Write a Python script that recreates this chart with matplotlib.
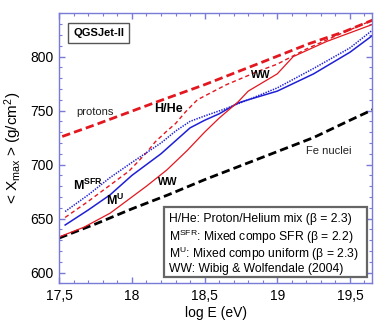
import matplotlib
matplotlib.use("Agg")
import matplotlib.pyplot as plt
from matplotlib.patches import Rectangle
from matplotlib.ticker import MultipleLocator

plt.rcParams['font.family'] = ['Liberation Sans', 'DejaVu Sans']
plt.rcParams['mathtext.fontset'] = 'custom'
plt.rcParams['mathtext.rm'] = 'Liberation Sans'
plt.rcParams['mathtext.it'] = 'Liberation Sans:italic'
plt.rcParams['mathtext.bf'] = 'Liberation Sans:bold'
plt.rcParams['lines.scale_dashes'] = False

# ---- data ----
proton_x = [17.52, 17.75, 18.0, 18.18, 18.5, 18.88, 19.22, 19.46, 19.66]
proton_y = [726, 737, 749.5, 758.5, 774, 794, 812, 823, 834]

fe_x = [17.5, 17.75, 18.0, 18.25, 18.5, 18.75, 19.0, 19.25, 19.5, 19.66]
fe_y = [632, 645, 659, 672, 686, 699, 712, 725, 741, 751]

hhe_x = [17.54, 17.70, 17.84, 17.98, 18.10, 18.16, 18.24, 18.30, 18.37, 18.45,
         18.55, 18.65, 18.88, 19.0, 19.2, 19.4, 19.66]
hhe_y = [651, 666, 680, 694, 711, 721, 731, 738, 749, 760,
         767, 774, 787, 793, 807, 819, 834]

msfr_x = [17.54, 17.7, 17.85, 18.0, 18.1, 18.2, 18.3, 18.4, 18.5, 18.65,
          18.8, 19.0, 19.25, 19.5, 19.66]
msfr_y = [656.5, 672, 688, 702, 711, 720, 731, 740, 745, 752,
          760, 771, 789, 808, 825]

mu_x = [17.54, 17.7, 17.85, 18.0, 18.1, 18.2, 18.3, 18.4, 18.5, 18.6,
        18.73, 18.8, 19.0, 19.25, 19.5, 19.66]
mu_y = [644, 658, 672, 690, 700, 710, 722, 734, 741, 747,
        757, 760, 768, 784, 804, 820]

ww_x = [17.5, 17.67, 17.85, 18.0, 18.1, 18.24, 18.38, 18.5, 18.6, 18.73,
        18.8, 18.9, 19.0, 19.11, 19.34, 19.66]
ww_y = [633, 642, 655, 670, 680, 695, 713, 730, 743, 758,
        768, 776, 784, 800, 814, 830]

xticks = [17.5, 18.0, 18.5, 19.0, 19.5]
xticklabels = ['17,5', '18', '18,5', '19', '19,5']
yticks = [600, 650, 700, 750, 800]

legend_lines = [
    'H/He: Proton/Helium mix (\u03b2 = 2.3)',
    'M$^{\\rm SFR}$: Mixed compo SFR (\u03b2 = 2.2)',
    'M$^{\\rm U}$: Mixed compo uniform (\u03b2 = 2.3)',
    'WW: Wibig & Wolfendale (2004)',
]

RED = '#e3171f'
BLUE = '#1f1fd6'
SPINE = '#7a7ad8'

fig = plt.figure(figsize=(3.89, 3.27), dpi=100)
ax = fig.add_axes([0.1525, 0.1336, 0.803, 0.8254])

ax.plot(proton_x, proton_y, color=RED, lw=2.0, dashes=(6, 3))
ax.plot(fe_x, fe_y, color='black', lw=2.0, dashes=(6, 3))
ax.plot(hhe_x, hhe_y, color=RED, lw=1.0, dashes=(3, 2.2))
ax.plot(msfr_x, msfr_y, color=BLUE, lw=1.1, dashes=(1.0, 0.9))
ax.plot(mu_x, mu_y, color=BLUE, lw=1.1)
ax.plot(ww_x, ww_y, color=RED, lw=0.9)

ax.set_xlim(17.5, 19.65)
ax.set_ylim(590, 840)
ax.set_xticks(xticks)
ax.set_xticklabels(xticklabels)
ax.set_yticks(yticks)
ax.xaxis.set_minor_locator(MultipleLocator(0.1))
ax.yaxis.set_minor_locator(MultipleLocator(10))
ax.tick_params(which='both', direction='in', top=True, right=True,
               color=SPINE, labelsize=10, pad=4)
ax.tick_params(which='major', length=4, width=1)
ax.tick_params(which='minor', length=2.5, width=0.8)
for s in ax.spines.values():
    s.set_color(SPINE)
    s.set_linewidth(1.0)

ax.set_xlabel('log E (eV)', fontsize=10, labelpad=2)
ax.set_ylabel('< X$_{\\rm max}$ > (g/cm$^{2}$)', fontsize=11, labelpad=5)

# annotations
ax.text(17.62, 749, 'protons', fontsize=8, va='center', ha='left', color='#222222')
ax.text(18.15, 751, 'H/He', fontsize=9, fontweight='bold', va='center', ha='left')
ax.text(18.82, 783, 'WW', fontsize=7.5, fontweight='bold', va='center', ha='left')
ax.text(18.18, 684, 'WW', fontsize=7.5, fontweight='bold', va='center', ha='left')
ax.text(19.20, 713, 'Fe nuclei', fontsize=8, va='center', ha='left', color='#222222')
ax.text(17.595, 681, r'$\mathbf{M^{SFR}}$', fontsize=9, va='center', ha='left')
ax.text(17.82, 667, r'$\mathbf{M^{U}}$', fontsize=9, va='center', ha='left')

ax.text(0.045, 0.928, 'QGSJet-II', transform=ax.transAxes, fontsize=8,
        fontweight='bold', va='center', ha='left',
        bbox=dict(boxstyle='square,pad=0.45', fc='white', ec='#555555', lw=1.0))

# legend box
ax.add_patch(Rectangle((0.336, 0.025), 0.648, 0.257, transform=ax.transAxes,
                       fc='white', ec='#666666', lw=1.6, zorder=5))
leg_y = [0.238, 0.172, 0.108, 0.052]
for t, yy in zip(legend_lines, leg_y):
    ax.text(0.352, yy, t, transform=ax.transAxes, fontsize=8.7, va='center',
            ha='left', zorder=6)

fig.savefig('out.png', dpi=100)
